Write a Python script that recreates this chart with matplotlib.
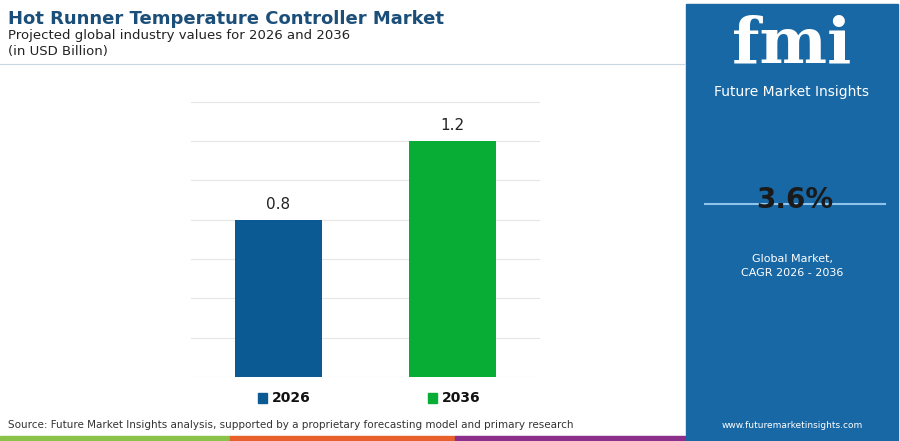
import matplotlib.pyplot as plt
from matplotlib.patches import Rectangle

years = ["2026", "2036"]
values = [0.8, 1.2]
colors = ["#0b5a94", "#08ad35"]
cagr = "3.6%"

fig = plt.figure(figsize=(9, 4.41), dpi=100)
fig.patch.set_facecolor("white")

# main axes
ax = fig.add_axes([191/900, 1-377/441, (540-191)/900, (377-94)/441])
x = range(len(years))
ax.bar(x, values, width=0.5, color=colors, zorder=3)
for xi, v in zip(x, values):
    ax.text(xi, v + 0.04, f"{v}", ha="center", va="bottom", fontsize=11, color="#222222")
ax.set_xlim(-0.5, 1.5)
ax.set_ylim(0, 1.44)
ax.set_yticks([0.2*i for i in range(8)])
ax.yaxis.grid(True, color="#e6e6e6", linewidth=0.8, zorder=0)
ax.tick_params(left=False, bottom=False, labelleft=False, labelbottom=False)
for s in ax.spines.values():
    s.set_visible(False)

# legend
for xi, yr, c in zip([258, 428], years, colors):
    fig.patches.append(Rectangle((xi/900, 1-403/441), 9/900, 10/441, color=c, transform=fig.transFigure))
    fig.text((xi+14)/900, 1-398/441, yr, fontsize=10, fontweight="bold", va="center", color="#111111")

# header
fig.text(8/900, 1-19/441, "Hot Runner Temperature Controller Market", fontsize=13, fontweight="bold",
         color="#1b4f7a", va="center")
fig.text(8/900, 1-36/441, "Projected global industry values for 2026 and 2036", fontsize=9.5, color="#222222", va="center")
fig.text(8/900, 1-51/441, "(in USD Billion)", fontsize=9.5, color="#222222", va="center")
fig.lines.append(plt.Line2D([0, 685/900], [1-64/441]*2, color="#c9d6e3", linewidth=0.8, transform=fig.transFigure))

fig.text(8/900, 1-425/441, "Source: Future Market Insights analysis, supported by a proprietary forecasting model and primary research",
         fontsize=7.5, color="#333333", va="center")
for x0, x1, c in [(0, 230, "#8bc34a"), (230, 455, "#e8612c"), (455, 685, "#8b2f8b")]:
    fig.patches.append(Rectangle((x0/900, 0), (x1-x0)/900, 5/441, color=c, transform=fig.transFigure))

# right panel
fig.patches.append(Rectangle((686/900, 0), 212/900, 437/441, color="#1868a6", transform=fig.transFigure))
fig.text(792/900, 1-45/441, "fmi", fontsize=46, fontweight="bold", color="white", ha="center", va="center",
         family="DejaVu Serif")
fig.text(792/900, 1-92/441, "Future Market Insights", fontsize=10, color="white", ha="center", va="center")
fig.lines.append(plt.Line2D([705/900, 885/900], [1-204/441]*2, color="#8fc3ea", linewidth=1.5, transform=fig.transFigure))
fig.text(795/900, 1-200/441, cagr, fontsize=20, fontweight="bold", color="#1a1a1a", ha="center", va="center")
fig.text(792/900, 1-259/441, "Global Market,", fontsize=8, color="white", ha="center", va="center")
fig.text(792/900, 1-273/441, "CAGR 2026 - 2036", fontsize=8, color="white", ha="center", va="center")
fig.text(792/900, 1-425/441, "www.futuremarketinsights.com", fontsize=6.5, color="white", ha="center", va="center")

fig.savefig("out.png", dpi=100, facecolor="white")
